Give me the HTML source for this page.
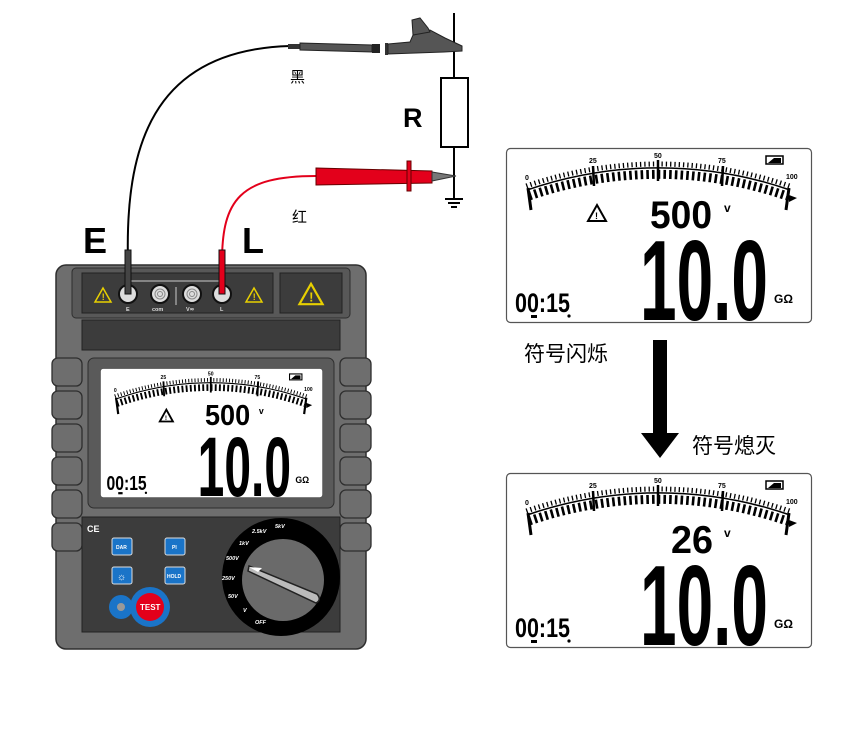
<!DOCTYPE html>
<html><head><meta charset="utf-8"><style>
html,body{margin:0;padding:0;background:#fff;}
svg{display:block;}
text{font-family:"Liberation Sans","Noto Sans CJK SC",sans-serif;}
</style></head><body>
<svg width="852" height="739" viewBox="0 0 852 739" xmlns="http://www.w3.org/2000/svg">
<defs>
<g id="scale">
  <rect x="0.5" y="0.5" width="305" height="174" rx="4" fill="#fff" stroke="#555" stroke-width="1.2"/>
  <path d="M21,42 A401,401 0 0 1 284,42" fill="none" stroke="#000" stroke-width="1.5"/>
  <path d="M20.3,38 A405,405 0 0 1 283.7,38" fill="none" stroke="#000" stroke-width="5" stroke-dasharray="1.3 3"/>
  <path d="M23,48 A395,395 0 0 1 281,48" fill="none" stroke="#000" stroke-width="9" stroke-dasharray="2.6 3.1"/>
  <line x1="22" y1="40" x2="25" y2="62" stroke="#000" stroke-width="3"/>
  <line x1="283" y1="40" x2="280" y2="62" stroke="#000" stroke-width="3"/>
  <line x1="87" y1="18" x2="88" y2="38" stroke="#000" stroke-width="2.5"/>
  <line x1="152" y1="12" x2="152" y2="33" stroke="#000" stroke-width="2.5"/>
  <line x1="217" y1="18" x2="216" y2="38" stroke="#000" stroke-width="2.5"/>
  <polygon points="283,47 291,50 283,54" fill="#000"/>
  <g font-size="7" font-weight="bold" fill="#000">
    <text x="19" y="32">0</text><text x="83" y="15">25</text><text x="148" y="10">50</text><text x="212" y="15">75</text><text x="280" y="31">100</text>
  </g>
  <rect x="260" y="8" width="17" height="8" fill="none" stroke="#000" stroke-width="1.5"/>
  <polygon points="262,15 275,15 275,10 268,10" fill="#000"/>
  <text x="134" y="172" font-size="114" font-weight="bold" textLength="128" lengthAdjust="spacingAndGlyphs" fill="#000">10.0</text>
  <text x="268" y="155" font-size="12" font-weight="bold" fill="#000">GΩ</text>
  <text x="9" y="164" font-size="27" font-weight="bold" textLength="55" lengthAdjust="spacingAndGlyphs" fill="#000">00:15</text>
  <rect x="25" y="167" width="6" height="3" fill="#000"/>
  <circle cx="63" cy="168" r="1.6" fill="#000"/>
</g>
<g id="tri"><polygon points="0,-7 8,7 -8,7" fill="none" stroke="#e8d000" stroke-width="1.5"/><text x="-1.3" y="5" font-size="9" font-weight="bold" fill="#e8d000">!</text></g>
</defs>

<path d="M128,262 C125,150 150,50 290,46" fill="none" stroke="#000" stroke-width="2"/>
<path d="M222,262 C222,200 240,176 316,176" fill="none" stroke="#e3001b" stroke-width="2"/>

<line x1="454" y1="13" x2="454" y2="199" stroke="#000" stroke-width="2"/>
<rect x="441" y="78" width="27" height="69" fill="#fff" stroke="#000" stroke-width="2"/>
<line x1="445" y1="199" x2="463" y2="199" stroke="#000" stroke-width="2"/>
<line x1="448" y1="203" x2="460" y2="203" stroke="#000" stroke-width="2"/>
<line x1="451" y1="207" x2="457" y2="207" stroke="#000" stroke-width="2"/>
<text x="403" y="127" font-size="27" font-weight="bold">R</text>

<rect x="288" y="44" width="12" height="5" fill="#333"/>
<polygon points="300,43 372,45 372,52 300,50" fill="#555" stroke="#222" stroke-width="1"/>
<rect x="372" y="44" width="8" height="9" fill="#222"/>
<rect x="385" y="43" width="3" height="12" fill="#333"/>
<polygon points="388,44 410,42 413,35 430,30 445,38 462,46 462,51 444,52 388,54" fill="#555" stroke="#222" stroke-width="1"/>
<polygon points="413,35 412,20 420,18 428,28 430,32" fill="#555" stroke="#222" stroke-width="1"/>
<text x="290" y="82" font-size="15">黑</text>

<polygon points="316,168 432,171 432,183 316,185" fill="#e3001b" stroke="#600" stroke-width="1"/>
<rect x="407" y="161" width="4" height="30" fill="#e3001b" stroke="#600" stroke-width="1"/>
<polygon points="432,172 456,176 432,181" fill="#777" stroke="#333" stroke-width="1"/>
<text x="292" y="222" font-size="15">红</text>

<text x="83" y="253" font-size="36" font-weight="bold">E</text>
<text x="242" y="253" font-size="36" font-weight="bold">L</text>

<g>
  <rect x="56" y="265" width="310" height="384" rx="10" fill="#6e6e6e" stroke="#2e2e2e" stroke-width="1.5"/>
  <g fill="#6e6e6e" stroke="#2e2e2e" stroke-width="1.3">
    <rect x="52" y="358" width="30" height="28" rx="6"/><rect x="52" y="391" width="30" height="28" rx="6"/><rect x="52" y="424" width="30" height="28" rx="6"/><rect x="52" y="457" width="30" height="28" rx="6"/><rect x="52" y="490" width="30" height="28" rx="6"/><rect x="52" y="523" width="30" height="28" rx="6"/>
    <rect x="340" y="358" width="31" height="28" rx="6"/><rect x="340" y="391" width="31" height="28" rx="6"/><rect x="340" y="424" width="31" height="28" rx="6"/><rect x="340" y="457" width="31" height="28" rx="6"/><rect x="340" y="490" width="31" height="28" rx="6"/><rect x="340" y="523" width="31" height="28" rx="6"/>
  </g>
  <rect x="72" y="268" width="278" height="50" rx="4" fill="#585858" stroke="#2e2e2e"/>
  <rect x="82" y="273" width="191" height="40" fill="#3c3c3c" stroke="#222"/>
  <rect x="280" y="273" width="62" height="40" fill="#3c3c3c" stroke="#222"/>
  <rect x="82" y="320" width="258" height="30" fill="#3c3c3c" stroke="#222"/>
  <line x1="130" y1="281" x2="222" y2="281" stroke="#ccc" stroke-width="1"/>
  <use href="#tri" x="103" y="295"/>
  <use href="#tri" x="254" y="295"/>
  <g transform="translate(311,294) scale(1.45)"><use href="#tri"/></g>
  <g stroke="#111" stroke-width="2">
    <circle cx="128" cy="294" r="9" fill="#ddd"/><circle cx="160" cy="294" r="9" fill="#ddd"/><circle cx="192" cy="294" r="9" fill="#ddd"/><circle cx="222" cy="294" r="9" fill="#ddd"/>
  </g>
  <g fill="none" stroke="#888" stroke-width="1"><circle cx="160" cy="294" r="5"/><circle cx="160" cy="294" r="2.5"/><circle cx="192" cy="294" r="5"/><circle cx="192" cy="294" r="2.5"/></g>
  <rect x="125" y="250" width="6" height="44" fill="#444" stroke="#111"/>
  <rect x="219" y="250" width="6" height="44" fill="#e3001b" stroke="#111"/>
  <g fill="#ddd" font-size="5.5" font-weight="bold"><text x="126" y="311">E</text><text x="152" y="311">com</text><text x="186" y="311">V≂</text><text x="220" y="311">L</text></g>
  <line x1="176" y1="287" x2="176" y2="305" stroke="#ccc"/>
  <rect x="88" y="358" width="246" height="150" rx="6" fill="#5a5a5a" stroke="#2e2e2e"/>
  <g transform="translate(100,368) scale(0.729,0.743)">
    <use href="#scale"/>
    <text x="144" y="77" font-size="39" font-weight="bold" textLength="62" lengthAdjust="spacingAndGlyphs">500</text>
    <text x="218" y="62" font-size="12" font-weight="bold">v</text>
    <polygon points="91,56 100,72 82,72" fill="none" stroke="#000" stroke-width="2.5"/>
    <text x="89" y="70" font-size="9" font-weight="bold">!</text>
  </g>
  <rect x="82" y="517" width="258" height="115" fill="#3c3c3c" stroke="#222"/>
  <text x="87" y="532" font-size="9" font-weight="bold" fill="#fff">CE</text>
  <g stroke="#ddd" stroke-width="1" fill="#1a74c8">
    <rect x="112" y="538" width="20" height="17" rx="2"/><rect x="165" y="538" width="20" height="17" rx="2"/>
    <rect x="112" y="567" width="20" height="17" rx="2"/><rect x="165" y="567" width="20" height="17" rx="2"/>
  </g>
  <g fill="#fff" font-size="5" font-weight="bold"><text x="116" y="549">DAR</text><text x="172" y="549">PI</text><text x="167" y="578">HOLD</text><text x="117" y="580" font-size="10">☼</text></g>
  <circle cx="121" cy="607" r="12" fill="#1a74c8"/>
  <circle cx="150" cy="607" r="20" fill="#1a74c8"/>
  <circle cx="150" cy="607" r="14" fill="#e3001b"/>
  <circle cx="121" cy="607" r="4" fill="#999"/>
  <text x="140" y="610" font-size="8" font-weight="bold" fill="#fff">TEST</text>
  <circle cx="281" cy="577" r="59" fill="#000"/>
  <circle cx="283" cy="580" r="41" fill="#6a6a6a"/>
  <path d="M249,566 L317,594 Q322,600 316,603 L248,571 Z" fill="#bbb" stroke="#222" stroke-width="1.5"/>
  <polygon points="249,567 262,568 258,572" fill="#fff"/>
  <g fill="#fff" font-size="5.5" font-style="italic" font-weight="bold">
    <text x="275" y="528">5kV</text><text x="252" y="533">2.5kV</text><text x="239" y="545">1kV</text><text x="226" y="560">500V</text><text x="222" y="580">250V</text><text x="228" y="598">50V</text><text x="243" y="612">V</text><text x="255" y="624">OFF</text>
  </g>
</g>

<g transform="translate(506,148)">
  <use href="#scale"/>
  <text x="144" y="80" font-size="39" font-weight="bold" textLength="62" lengthAdjust="spacingAndGlyphs">500</text>
  <text x="218" y="64" font-size="12" font-weight="bold">v</text>
  <polygon points="91,57 100,73 82,73" fill="none" stroke="#000" stroke-width="2"/>
  <text x="89" y="71" font-size="9" font-weight="bold">!</text>
</g>
<g transform="translate(506,473)">
  <use href="#scale"/>
  <text x="165" y="80" font-size="39" font-weight="bold" textLength="42" lengthAdjust="spacingAndGlyphs">26</text>
  <text x="218" y="64" font-size="12" font-weight="bold">v</text>
</g>

<text x="524" y="361" font-size="21">符号闪烁</text>
<rect x="653" y="340" width="14" height="95" fill="#000"/>
<polygon points="641,433 679,433 660,458" fill="#000"/>
<text x="692" y="453" font-size="21">符号熄灭</text>
</svg>
</body></html>
